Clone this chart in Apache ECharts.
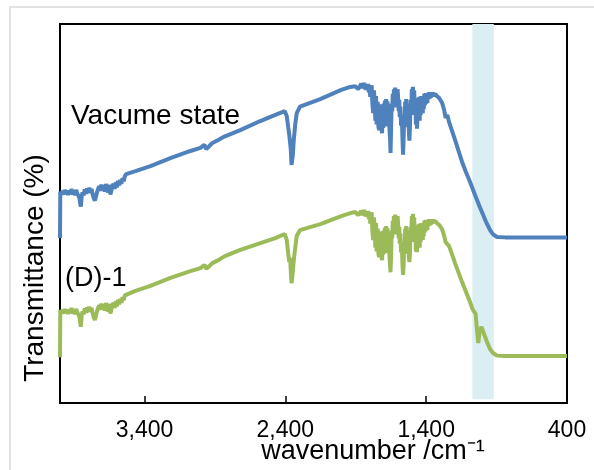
<!DOCTYPE html>
<html>
<head>
<meta charset="utf-8">
<title>IR spectra</title>
<script src="https://cdn.jsdelivr.net/npm/echarts@6/dist/echarts.min.js"></script>
<style>
  html, body { margin: 0; padding: 0; background: #ffffff; }
  #chart { width: 594px; height: 470px; }
</style>
</head>
<body>
<div id="chart"></div>
<script>
// IR transmittance spectra, wavenumber in cm^-1 (x) and transmittance in % (y)

const xTickValues = [3400, 2400, 1400, 400];

// wavenumbers shared by both spectra down to 1089 cm^-1
const commonWavenumber = [
  4000,
  3998, 3990, 3982, 3974, 3966, 3958, 3950, 3942, 3934, 3926,
  3918, 3910, 3902, 3894, 3886, 3878, 3870, 3862, 3856, 3852,
  3846, 3840, 3832, 3824, 3816, 3808, 3800, 3792, 3784, 3776,
  3768, 3760, 3752, 3745, 3738, 3730, 3722, 3714, 3706, 3698,
  3690, 3682, 3674, 3666, 3658, 3650, 3642, 3636, 3628, 3620,
  3612, 3604, 3596, 3588, 3580, 3572, 3564, 3556, 3548, 3540,
  3530,
  3464, 3358, 3216, 3074, 3003, 2975, 2961, 2940, 2918, 2904,
  2876, 2833, 2720, 2578, 2471, 2404, 2390, 2379, 2372, 2366,
  2361, 2356, 2347, 2340, 2330, 2319, 2296, 2152, 2003, 1939,
  1904, 1883,
  1861, 1855, 1850, 1845, 1840, 1835, 1830, 1826, 1821, 1816,
  1812, 1807, 1802, 1797, 1792, 1787, 1782, 1776, 1771, 1766,
  1761, 1756, 1752, 1748, 1744, 1739, 1734, 1730, 1726, 1723,
  1718, 1713, 1709, 1705, 1702, 1697, 1693, 1688, 1684, 1680,
  1675, 1670, 1665, 1660, 1656, 1653, 1649, 1645, 1641, 1637,
  1633, 1629, 1625, 1620, 1615, 1611, 1607, 1603, 1599, 1595,
  1591, 1588, 1583, 1578, 1573, 1569, 1564, 1560, 1556, 1553,
  1549, 1545, 1542, 1538, 1534, 1531, 1527, 1523, 1519, 1515,
  1511, 1506, 1502, 1498, 1494, 1490, 1485, 1481, 1477, 1473,
  1469, 1465, 1461, 1457, 1453, 1449, 1446, 1443, 1439, 1435,
  1432, 1428, 1424, 1421, 1417, 1413, 1409, 1405, 1400, 1396,
  1392, 1388, 1384, 1379, 1375, 1371, 1366, 1362, 1358, 1353,
  1349, 1344, 1340, 1335, 1331, 1325, 1318, 1308,
  1287, 1272, 1262, 1250, 1237, 1195, 1145, 1117, 1089
];

// Vacume state
const vacTailWavenumber = [1053, 1017, 975, 946, 925, 897, 840, 400];
const vacTransmittance = [
  43.5,
  55.8, 55.2, 55.9, 55.0, 56.2, 55.3, 56.0, 54.9, 56.1, 55.2,
  56.5, 55.0, 56.0, 54.8, 56.2, 55.4, 55.8, 54.1, 52.5, 51.8,
  54.5, 55.6, 54.8, 56.4, 55.2, 56.6, 55.4, 56.8, 55.6, 56.5,
  55.0, 54.0, 53.4, 53.6, 55.5, 56.4, 57.2, 56.0, 57.6, 56.2,
  57.4, 55.8, 57.8, 56.4, 55.6, 57.6, 55.0, 54.8, 57.2, 57.8,
  56.5, 58.2, 56.9, 58.6, 57.4, 58.9, 57.8, 59.3, 58.5, 59.8,
  60.4,
  61.2, 62.5, 64.6, 66.5, 67.3, 68.1, 67.0, 67.8, 68.6, 68.1,
  69.4, 70.3, 72.0, 74.4, 76.0, 77.0, 75.7, 72.6, 70.7, 71.2,
  66.8, 62.8, 65.4, 69.4, 73.4, 76.5, 78.2, 80.2, 82.6, 83.4,
  83.6, 82.8,
  84.2, 83.0, 84.4, 83.2, 84.5, 82.8, 84.0, 82.6, 84.1, 82.9,
  84.2, 82.0, 83.5, 80.8, 83.2, 83.8, 79.0, 76.5, 82.5, 80.0,
  74.5, 81.0, 73.5, 73.0, 79.5, 72.8, 72.0, 78.0, 72.5, 78.8,
  72.5, 71.2, 77.5, 72.6, 79.0, 73.0, 79.8, 73.0, 80.2, 74.0,
  79.6, 73.5, 78.5, 72.0, 69.5, 66.0, 72.5, 79.0, 77.0, 81.6,
  78.0, 82.8, 78.5, 83.2, 78.0, 82.2, 78.0, 82.8, 80.5, 77.0,
  80.0, 75.5, 78.2, 73.2, 76.0, 70.5, 65.5, 70.0, 75.0, 72.8,
  79.5, 73.5, 80.2, 73.0, 79.0, 73.5, 78.5, 72.0, 69.2, 73.0,
  80.0, 76.0, 82.8, 78.5, 83.4, 79.0, 82.5, 76.0, 80.5, 73.5,
  78.0, 72.4, 76.5, 80.0, 74.5, 80.8, 74.5, 79.5, 76.0, 81.0,
  77.0, 80.8, 76.5, 80.0, 77.5, 81.6, 78.5, 81.8, 79.0, 81.5,
  79.2, 81.6, 80.2, 82.0, 80.3, 81.8, 80.6, 82.0, 80.8, 82.0,
  81.0, 81.8, 80.9, 81.6, 81.2, 81.0, 80.8, 80.5,
  79.2, 77.3, 75.2, 76.0, 74.1, 69.4, 63.6, 60.9, 58.4,
  54.9, 51.5, 47.8, 45.6, 44.5, 43.8, 43.7, 43.7
];

// (D)-1
const d1TailWavenumber = [1071, 1049, 1039, 1030, 1021, 1007, 989, 968, 946, 925, 897, 840, 400];
const d1Transmittance = [
  12.1,
  24.5, 23.8, 24.5, 23.6, 24.8, 23.9, 24.6, 23.5, 24.7, 23.8,
  25.1, 23.6, 24.6, 23.4, 24.8, 24.0, 24.4, 22.7, 21.1, 20.1,
  23.1, 24.2, 23.4, 25.0, 23.8, 25.2, 24.0, 25.4, 24.2, 25.1,
  23.6, 22.6, 21.9, 22.0, 24.1, 25.0, 25.8, 24.6, 26.2, 24.8,
  26.0, 24.4, 26.4, 25.0, 24.2, 26.2, 23.6, 23.4, 25.8, 26.4,
  25.1, 26.8, 25.5, 27.2, 26.0, 27.5, 26.4, 27.9, 27.1, 28.4,
  28.8,
  29.6, 30.9, 33.0, 34.8, 35.6, 36.4, 35.4, 36.1, 36.9, 36.4,
  37.7, 38.7, 40.4, 42.2, 43.5, 44.6, 43.0, 39.3, 37.2, 38.3,
  34.6, 31.6, 34.6, 37.7, 40.9, 44.1, 45.6, 47.2, 49.3, 50.1,
  50.4, 49.6,
  50.7, 49.5, 50.9, 49.7, 51.0, 49.3, 50.5, 49.1, 50.6, 49.4,
  50.7, 48.5, 50.0, 47.3, 49.7, 50.3, 45.5, 43.0, 49.0, 46.5,
  41.0, 47.5, 40.0, 39.5, 46.0, 39.3, 38.5, 44.5, 39.0, 45.3,
  39.0, 37.7, 44.0, 39.1, 45.5, 39.5, 46.3, 39.5, 46.7, 40.5,
  46.1, 40.0, 45.0, 38.5, 36.0, 34.5, 39.0, 45.5, 43.5, 48.1,
  44.5, 49.3, 45.0, 49.7, 44.5, 48.7, 44.5, 49.3, 47.0, 43.5,
  46.5, 42.0, 44.7, 39.7, 42.5, 37.0, 33.8, 36.5, 41.5, 39.3,
  46.0, 40.0, 46.7, 39.5, 45.5, 40.0, 45.0, 38.5, 37.2, 39.5,
  46.5, 42.5, 49.3, 45.0, 49.9, 45.5, 49.0, 42.5, 47.0, 40.0,
  44.5, 39.8, 43.0, 46.5, 41.0, 47.3, 41.0, 46.0, 42.5, 47.5,
  43.5, 47.3, 43.0, 46.5, 44.0, 48.1, 45.0, 48.3, 45.5, 48.0,
  45.7, 48.1, 46.7, 48.5, 46.8, 48.3, 47.1, 48.5, 47.3, 48.5,
  47.5, 48.3, 47.4, 48.1, 47.7, 47.5, 47.3, 47.0,
  45.9, 44.1, 42.5, 43.0, 41.4, 36.9, 31.9, 29.3, 26.7,
  24.8, 23.5, 19.3, 15.8, 18.7, 20.1, 18.2, 16.1, 14.2, 13.2, 12.5, 12.4, 12.4
];

// highlighted wavenumber band
const bandRange = [1072, 920];

function pairs(xs, ys) {
  const n = Math.min(xs.length, ys.length);
  const out = [];
  for (let i = 0; i < n; i++) out.push([xs[i], ys[i]]);
  return out;
}

const FONT = '"Liberation Sans", Arial, sans-serif';

const chart = echarts.init(document.getElementById('chart'), null, { renderer: 'canvas' });

chart.setOption({
  animation: false,
  backgroundColor: '#ffffff',
  grid: {
    left: 60, right: 27, top: 24, bottom: 67,
    show: true, borderColor: '#000000', borderWidth: 2, backgroundColor: 'transparent'
  },
  xAxis: {
    type: 'value',
    inverse: true,
    min: 400,
    max: 4000,
    axisLine: { show: true, lineStyle: { color: '#000000', width: 2 } },
    axisTick: {
      show: true, inside: true, length: 7,
      customValues: xTickValues,
      lineStyle: { color: '#000000', width: 1.5 }
    },
    axisLabel: {
      customValues: xTickValues,
      margin: 16,
      color: '#000000',
      fontFamily: FONT,
      fontSize: 23,
      formatter: function (v) { return v.toLocaleString('en-US'); }
    },
    splitLine: { show: false }
  },
  yAxis: {
    type: 'value',
    min: 0,
    max: 100,
    axisLine: { show: true, lineStyle: { color: '#000000', width: 2 } },
    axisTick: { show: false },
    axisLabel: { show: false },
    splitLine: { show: false }
  },
  graphic: [
    {
      type: 'rect', z: -10, silent: true,
      shape: { x: 10, y: 7, width: 700, height: 600 },
      style: { fill: 'none', stroke: '#d9d9d9', lineWidth: 1.5 }
    },
    {
      type: 'text', x: 35, y: 268, rotation: Math.PI / 2,
      style: {
        text: 'Transmittance (%)', fill: '#000000', font: '28px ' + FONT,
        textAlign: 'center', textVerticalAlign: 'middle'
      }
    },
    {
      type: 'text', x: 373, y: 452,
      style: {
        text: 'wavenumber /cm\u207B\u00B9', fill: '#000000', font: '27px ' + FONT,
        textAlign: 'center', textVerticalAlign: 'middle'
      }
    },
    {
      type: 'text', x: 71, y: 116,
      style: {
        text: 'Vacume state', fill: '#000000', font: '28px ' + FONT,
        textAlign: 'left', textVerticalAlign: 'middle'
      }
    },
    {
      type: 'text', x: 65, y: 279,
      style: {
        text: '(D)-1', fill: '#000000', font: '27px ' + FONT,
        textAlign: 'left', textVerticalAlign: 'middle'
      }
    }
  ],
  series: [
    {
      name: 'Vacume state',
      type: 'line',
      data: pairs(commonWavenumber.concat(vacTailWavenumber), vacTransmittance),
      showSymbol: false,
      sampling: 'none',
      lineStyle: { color: '#4f81bd', width: 4 },
      itemStyle: { color: '#4f81bd' },
      z: 3,
      markArea: {
        silent: true,
        itemStyle: { color: '#daeef3' },
        data: [[{ xAxis: bandRange[0], yAxis: 1 }, { xAxis: bandRange[1], yAxis: 100 }]]
      }
    },
    {
      name: '(D)-1',
      type: 'line',
      data: pairs(commonWavenumber.concat(d1TailWavenumber), d1Transmittance),
      showSymbol: false,
      sampling: 'none',
      lineStyle: { color: '#9bbb59', width: 4 },
      itemStyle: { color: '#9bbb59' },
      z: 4
    }
  ]
});
</script>
</body>
</html>
